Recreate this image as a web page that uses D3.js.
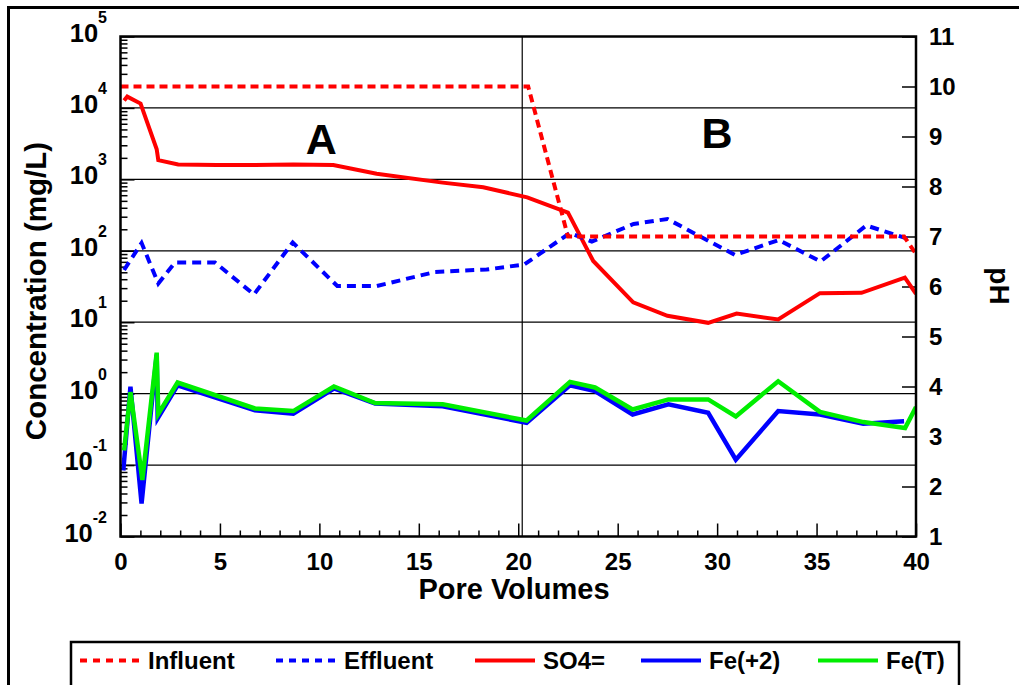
<!DOCTYPE html>
<html>
<head>
<meta charset="utf-8">
<script src="https://cdn.jsdelivr.net/npm/d3@7"></script>
<style>
  body { margin: 0; background: #fff; }
  svg text { font-family: "Liberation Sans", Arial, Helvetica, sans-serif; font-weight: bold; fill: #000; }
</style>
</head>
<body>
<svg id="chart" width="1019" height="685"></svg>
<script>
// Influent / effluent pH (right axis)
const influentPV = [0, 20.5, 22.5, 39.4, 40];
const influentPH = [10, 10, 7.0, 7.0, 6.65];
const effluentPV = [0.18, 1.06, 1.9, 2.74, 4.75, 6.71, 8.66, 10.9, 12.88, 15.81, 18.41, 20.3, 22.6, 23.7, 25.8, 27.5, 30.9, 33.1, 35.2, 37.5, 39.85];
const effluentPH = [6.33, 6.87, 6.06, 6.48, 6.48, 5.84, 6.88, 6.01, 6.01, 6.29, 6.34, 6.44, 7.07, 6.9, 7.25, 7.35, 6.63, 6.93, 6.5, 7.22, 6.92];

// Sulfate concentration, mg/L (left axis)
const so4PV = [0.18, 0.34, 1.01, 1.82, 1.9, 2.9, 4.84, 6.76, 8.69, 10.7, 12.88, 16.2, 18.24, 20.45, 22.5, 23.77, 25.78, 27.5, 29.55, 30.98, 33.07, 35.17, 37.26, 39.44, 40];
const so4Conc = [12700, 14400, 11500, 2640, 1860, 1620, 1590, 1590, 1620, 1590, 1195, 900, 775, 560, 343, 72, 19, 12.3, 9.8, 13.2, 10.9, 25.5, 25.8, 42, 25];

// Ferrous iron, mg/L
const fe2PV = [0.14, 0.5, 1.06, 1.82, 1.87, 2.87, 6.76, 8.69, 10.73, 12.8, 16.2, 20.42, 22.6, 23.86, 25.75, 27.55, 29.55, 30.94, 33.07, 35.17, 37.35, 39.4];
const fe2Conc = [0.084, 1.25, 0.029, 3.5, 0.45, 1.31, 0.585, 0.525, 1.18, 0.73, 0.665, 0.39, 1.31, 1.09, 0.51, 0.71, 0.54, 0.119, 0.57, 0.51, 0.38, 0.41];

// Total iron, mg/L
const feTPV = [0.18, 0.5, 1.1, 1.82, 1.9, 2.87, 6.76, 8.69, 10.73, 12.8, 16.2, 20.42, 22.6, 23.86, 25.75, 27.55, 29.55, 30.94, 33.07, 35.17, 37.35, 39.45, 40];
const feTConc = [0.16, 1.05, 0.062, 3.75, 0.52, 1.43, 0.62, 0.57, 1.26, 0.74, 0.71, 0.42, 1.46, 1.22, 0.60, 0.83, 0.83, 0.48, 1.49, 0.555, 0.40, 0.33, 0.65];

// Axis ticks
const xMajor = [0, 5, 10, 15, 20, 25, 30, 35, 40];
const decades = [-2, -1, 0, 1, 2, 3, 4, 5];
const phTicks = [1, 2, 3, 4, 5, 6, 7, 8, 9, 10, 11];
const phaseBoundary = 20.2;
const phaseLabels = [{ text: "A", pv: 10.1, conc: 2300 }, { text: "B", pv: 30, conc: 2750 }];

const legendItems = [
  { label: "Influent", color: "#ff0000", dash: "7,6" },
  { label: "Effluent", color: "#0000ff", dash: "7,6" },
  { label: "SO4=", color: "#ff0000", dash: null },
  { label: "Fe(+2)", color: "#0000ff", dash: null },
  { label: "Fe(T)", color: "#00ee00", dash: null }
];

const L = 120.5, R = 916, T = 36.5, B = 536.5;
const svg = d3.select("#chart");

const x = d3.scaleLinear().domain([0, 40]).range([L, R]);
const yC = d3.scaleLog().domain([1e-2, 1e5]).range([B, T]);
const yP = d3.scaleLinear().domain([1, 11]).range([B, T]);

// outer frame
svg.append("rect").attr("x", 8.5).attr("y", 7.5).attr("width", 1040).attr("height", 720)
  .attr("fill", "none").attr("stroke", "#000").attr("stroke-width", 3);

// horizontal grid at decades, plus the phase boundary
const grid = svg.append("g");
decades.slice(1, -1).forEach(d => {
  grid.append("line").attr("x1", L).attr("x2", R).attr("y1", yC(Math.pow(10, d))).attr("y2", yC(Math.pow(10, d)))
    .attr("stroke", "#000").attr("stroke-width", 1.3);
});
grid.append("line").attr("x1", x(phaseBoundary)).attr("x2", x(phaseBoundary)).attr("y1", T).attr("y2", B)
  .attr("stroke", "#000").attr("stroke-width", 1.2);

// left axis ticks (inside)
const minorLog = [];
decades.slice(0, -1).forEach(d => { for (let k = 2; k <= 9; k++) minorLog.push(k * Math.pow(10, d)); });
function styleAxis(g) {
  g.select(".domain").remove();
  g.selectAll(".tick line").attr("stroke", "#000").attr("stroke-width", 1.5);
}
svg.append("g").attr("transform", `translate(${L},0)`)
  .call(d3.axisRight(yC).tickValues(minorLog).tickSize(7).tickFormat(""))
  .call(styleAxis);
svg.append("g").attr("transform", `translate(${L},0)`)
  .call(d3.axisRight(yC).tickValues(decades.map(d => Math.pow(10, d))).tickSize(14).tickFormat(""))
  .call(styleAxis);

// left labels 10^n
const lab = svg.append("g");
decades.forEach(d => {
  const t = lab.append("text").attr("x", 107).attr("y", yC(Math.pow(10, d)) + 5)
    .attr("text-anchor", "end").style("font-size", "25.5px");
  t.append("tspan").text("10");
  t.append("tspan").attr("dy", -19).style("font-size", "16px").text(String(d));
});

// bottom axis ticks (inside) and labels
const xMinor = d3.range(1, 40).filter(v => v % 5 !== 0);
svg.append("g").attr("transform", `translate(0,${B})`)
  .call(d3.axisTop(x).tickValues(xMinor).tickSize(6).tickFormat(""))
  .call(styleAxis);
svg.append("g").attr("transform", `translate(0,${B})`)
  .call(d3.axisTop(x).tickValues(xMajor).tickSize(13).tickFormat(""))
  .call(styleAxis);
svg.append("g").attr("transform", `translate(0,${B})`)
  .call(d3.axisBottom(x).tickValues(xMajor).tickSize(0).tickPadding(16).tickFormat(d3.format("d")))
  .call(g => { g.select(".domain").remove(); g.selectAll("text").attr("fill", "#000").style("font-size", "24px").style("font-family", null); });

// right axis ticks and labels
svg.append("g").attr("transform", `translate(${R},0)`)
  .call(d3.axisLeft(yP).tickValues(phTicks).tickSize(14).tickFormat(""))
  .call(styleAxis);
svg.append("g").attr("transform", `translate(${R},0)`)
  .call(d3.axisRight(yP).tickValues(phTicks).tickSize(0).tickPadding(13).tickFormat(d3.format("d")))
  .call(g => { g.select(".domain").remove(); g.selectAll("text").attr("fill", "#000").style("font-size", "24px").style("font-family", null); });

// series
svg.append("defs").append("clipPath").attr("id", "plotClip")
  .append("rect").attr("x", L).attr("y", T).attr("width", R - L).attr("height", B - T);
const plot = svg.append("g").attr("clip-path", "url(#plotClip)");

const lineC = d3.line().x(d => x(d[0])).y(d => yC(d[1]));
const lineP = d3.line().x(d => x(d[0])).y(d => yP(d[1]));
const zip = (a, b) => a.map((v, i) => [v, b[i]]);

plot.append("path").datum(zip(fe2PV, fe2Conc)).attr("d", lineC)
  .attr("fill", "none").attr("stroke", "#0000ff").attr("stroke-width", 4.5).attr("stroke-linejoin", "miter");
plot.append("path").datum(zip(feTPV, feTConc)).attr("d", lineC)
  .attr("fill", "none").attr("stroke", "#00ee00").attr("stroke-width", 4.5).attr("stroke-linejoin", "miter");
plot.append("path").datum(zip(so4PV, so4Conc)).attr("d", lineC)
  .attr("fill", "none").attr("stroke", "#ff0000").attr("stroke-width", 4).attr("stroke-linejoin", "miter");
plot.append("path").datum(zip(effluentPV, effluentPH)).attr("d", lineP)
  .attr("fill", "none").attr("stroke", "#0000ff").attr("stroke-width", 4).attr("stroke-dasharray", "9,6");
plot.append("path").datum(zip(influentPV, influentPH)).attr("d", lineP)
  .attr("fill", "none").attr("stroke", "#ff0000").attr("stroke-width", 4).attr("stroke-dasharray", "8,5");

// plot frame
svg.append("rect").attr("x", L).attr("y", T).attr("width", R - L).attr("height", B - T)
  .attr("fill", "none").attr("stroke", "#000").attr("stroke-width", 2.5);

// phase labels
phaseLabels.forEach(p => {
  svg.append("text").attr("x", x(p.pv)).attr("y", yC(p.conc)).attr("text-anchor", "middle")
    .style("font-size", "43px").text(p.text);
});

// axis titles
svg.append("text").attr("x", 514).attr("y", 599).attr("text-anchor", "middle")
  .style("font-size", "29px").text("Pore Volumes");
svg.append("text").attr("transform", "translate(46,291) rotate(-90)").attr("text-anchor", "middle")
  .style("font-size", "29.5px").text("Concentration (mg/L)");
svg.append("text").attr("transform", "translate(990,286) rotate(90)").attr("text-anchor", "middle")
  .style("font-size", "28px").text("pH");

// legend
const lg = svg.append("g");
lg.append("rect").attr("x", 71).attr("y", 642).attr("width", 888).attr("height", 80)
  .attr("fill", "#fff").attr("stroke", "#000").attr("stroke-width", 2.5);
const legendX = [80, 276, 475, 641, 818];
legendItems.forEach((it, i) => {
  const x0 = legendX[i];
  lg.append("line").attr("x1", x0).attr("x2", x0 + 60).attr("y1", 660.5).attr("y2", 660.5)
    .attr("stroke", it.color).attr("stroke-width", 4).attr("stroke-dasharray", it.dash);
  lg.append("text").attr("x", x0 + 68).attr("y", 669).style("font-size", "24px").text(it.label);
});
</script>
</body>
</html>
